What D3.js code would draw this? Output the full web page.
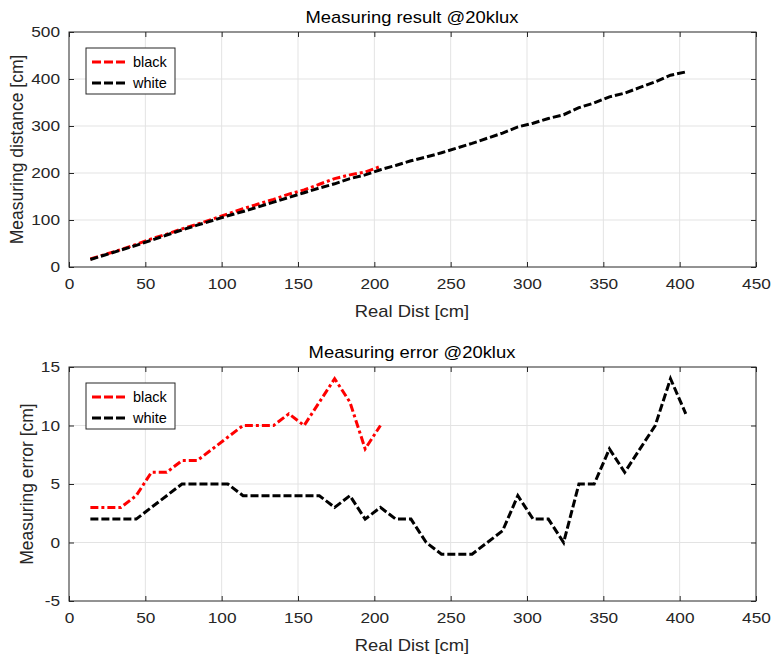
<!DOCTYPE html>
<html>
<head>
<meta charset="utf-8">
<script src="https://cdn.jsdelivr.net/npm/d3@7"></script>
<style>
  body { margin: 0; background: #fff; }
  svg { font-family: "Liberation Sans", Arial, sans-serif; }
  .tick text { fill: #262626; font-size: 15px; }
  .wide { transform-box: fill-box; transform-origin: center; transform: scaleX(1.15); }
  .wide-r { transform-box: fill-box; transform-origin: right; transform: scaleX(1.15); }
</style>
</head>
<body>
<div id="chart"></div>
<script>
// Real distances [cm]
const realWhite = [14, 24, 34, 44, 54, 64, 74, 84, 94, 104, 114, 124, 134, 144, 154, 164, 174, 184, 194, 204,
    214, 224, 234, 244, 254, 264, 274, 284, 294, 304, 314, 324, 334, 344, 354, 364, 374, 384, 394, 404];
const realBlack = [14, 24, 34, 44, 54, 64, 74, 84, 94, 104, 114, 124, 134, 144, 154, 164, 174, 184, 194, 204];

// Measured distances [cm]
const measWhite = [16, 26, 36, 46, 57, 68, 79, 89, 99, 109, 118, 128, 138, 148, 158, 168, 177, 188, 196, 207,
    216, 226, 234, 243, 253, 263, 274, 285, 298, 306, 316, 324, 339, 349, 362, 370, 382, 394, 408, 415];
const measBlack = [17, 27, 37, 48, 60, 70, 81, 91, 102, 113, 124, 134, 144, 155, 164, 176, 188, 196, 202, 214];

// Measuring error [cm]
const errWhite = [2, 2, 2, 2, 3, 4, 5, 5, 5, 5, 4, 4, 4, 4, 4, 4, 3, 4, 2, 3,
    2, 2, 0, -1, -1, -1, 0, 1, 4, 2, 2, 0, 5, 5, 8, 6, 8, 10, 14, 11];
const errBlack = [3, 3, 3, 4, 6, 6, 7, 7, 8, 9, 10, 10, 10, 11, 10, 12, 14, 12, 8, 10];

const xTicks = [0, 50, 100, 150, 200, 250, 300, 350, 400, 450];
const yTicksTop = [0, 100, 200, 300, 400, 500];
const yTicksBottom = [-5, 0, 5, 10, 15];
const seriesNames = ['black', 'white'];

const width = 772, height = 657;
const svg = d3.select('#chart').append('svg')
    .attr('width', width)
    .attr('height', height);

const styles = {
    black: { color: '#ff0000', dash: '8,3,3,3' },
    white: { color: '#000000', dash: '8,3' }
};

function drawPanel(opts) {
    const x = d3.scaleLinear().domain([0, 450]).range([69, 756]);
    const y = d3.scaleLinear().domain(opts.yDomain).range([opts.bottom, opts.top]);
    const g = svg.append('g');

    // grid
    g.append('g').selectAll('line.gx')
        .data(xTicks.slice(1, -1)).join('line')
        .attr('x1', d => x(d)).attr('x2', d => x(d))
        .attr('y1', opts.top).attr('y2', opts.bottom)
        .attr('stroke', '#e3e3e3').attr('stroke-width', 1);
    g.append('g').selectAll('line.gy')
        .data(opts.yTicks.slice(1, -1)).join('line')
        .attr('y1', d => y(d)).attr('y2', d => y(d))
        .attr('x1', 69).attr('x2', 756)
        .attr('stroke', '#e3e3e3').attr('stroke-width', 1);

    // lines
    const line = d3.line().x(d => x(d[0])).y(d => y(d[1]));
    opts.series.forEach(s => {
        g.append('path')
            .datum(d3.zip(s.xs, s.ys))
            .attr('fill', 'none')
            .attr('stroke', styles[s.name].color)
            .attr('stroke-width', 3)
            .attr('stroke-dasharray', styles[s.name].dash)
            .attr('d', line);
    });

    // axes (ticks inward on all four sides)
    const fmt = d => String(d);
    const axB = g.append('g').attr('transform', `translate(0,${opts.bottom})`)
        .call(d3.axisBottom(x).tickValues(xTicks).tickFormat(fmt).tickSizeInner(-5).tickSizeOuter(0).tickPadding(11));
    const axT = g.append('g').attr('transform', `translate(0,${opts.top})`)
        .call(d3.axisTop(x).tickValues(xTicks).tickSizeInner(-5).tickSizeOuter(0).tickFormat(''));
    const axL = g.append('g').attr('transform', 'translate(69,0)')
        .call(d3.axisLeft(y).tickValues(opts.yTicks).tickFormat(fmt).tickSizeInner(-5).tickSizeOuter(0).tickPadding(9));
    const axR = g.append('g').attr('transform', 'translate(756,0)')
        .call(d3.axisRight(y).tickValues(opts.yTicks).tickSizeInner(-5).tickSizeOuter(0).tickFormat(''));
    [axB, axT, axL, axR].forEach(a => {
        a.select('.domain').remove();
        a.selectAll('.tick line').attr('stroke', '#262626');
    });
    axB.selectAll('.tick text').attr('class', 'wide');
    axL.selectAll('.tick text').attr('class', 'wide-r');

    g.append('rect')
        .attr('x', 69).attr('y', opts.top)
        .attr('width', 756 - 69).attr('height', opts.bottom - opts.top)
        .attr('fill', 'none').attr('stroke', '#262626').attr('stroke-width', 1);

    // title and labels
    g.append('text')
        .attr('class', 'wide')
        .attr('x', 412).attr('y', opts.top - 9)
        .attr('text-anchor', 'middle')
        .attr('font-size', 16).attr('fill', '#000')
        .text(opts.title);
    g.append('text')
        .attr('class', 'wide')
        .attr('x', 412).attr('y', opts.bottom + 50)
        .attr('text-anchor', 'middle')
        .attr('font-size', 16).attr('fill', '#262626')
        .text('Real Dist [cm]');
    g.append('text')
        .attr('transform', `translate(${opts.ylabelX},${(opts.top + opts.bottom) / 2}) rotate(-90)`)
        .attr('text-anchor', 'middle')
        .attr('font-size', 17.5).attr('fill', '#262626')
        .text(opts.ylabel);

    // legend
    const lg = g.append('g').attr('transform', `translate(86,${opts.top + 16})`);
    lg.append('rect')
        .attr('width', 89).attr('height', 46)
        .attr('fill', '#fff').attr('stroke', '#262626').attr('stroke-width', 1);
    seriesNames.forEach((name, i) => {
        const yy = 14 + i * 21;
        lg.append('line')
            .attr('x1', 6).attr('x2', 42).attr('y1', yy).attr('y2', yy)
            .attr('stroke', styles[name].color).attr('stroke-width', 3)
            .attr('stroke-dasharray', '9,3');
        lg.append('text')
            .attr('x', 47).attr('y', yy + 5)
            .attr('font-size', 14.5).attr('fill', '#000')
            .text(name);
    });
}

drawPanel({
    top: 32, bottom: 267,
    yDomain: [0, 500], yTicks: yTicksTop,
    title: 'Measuring result @20klux',
    ylabel: 'Measuring distance [cm]', ylabelX: 23,
    series: [
        { name: 'black', xs: realBlack, ys: measBlack },
        { name: 'white', xs: realWhite, ys: measWhite }
    ]
});

drawPanel({
    top: 367, bottom: 601,
    yDomain: [-5, 15], yTicks: yTicksBottom,
    title: 'Measuring error @20klux',
    ylabel: 'Measuring error [cm]', ylabelX: 33,
    series: [
        { name: 'black', xs: realBlack, ys: errBlack },
        { name: 'white', xs: realWhite, ys: errWhite }
    ]
});
</script>
</body>
</html>
